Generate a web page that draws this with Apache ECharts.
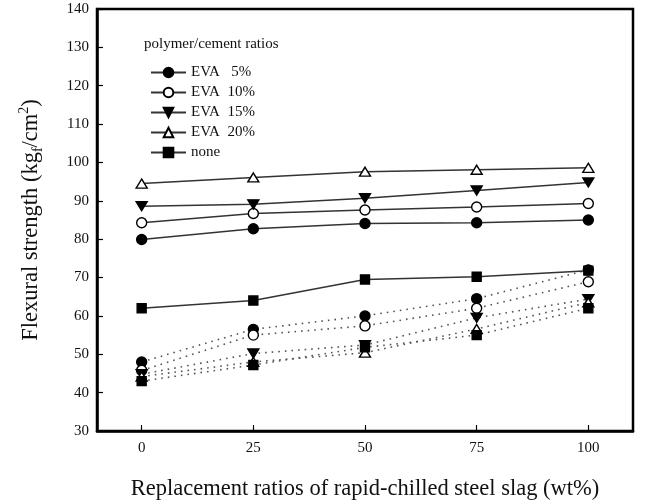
<!DOCTYPE html>
<html>
<head>
<meta charset="utf-8">
<script src="https://cdn.jsdelivr.net/npm/echarts@6/dist/echarts.min.js"></script>
<style>
  html, body { margin: 0; padding: 0; background: #fff; }
  #chart { width: 651px; height: 504px; }
</style>
</head>
<body>
<div id="chart"></div>
<script>
// Replacement ratio of rapid-chilled steel slag (wt%)
const ratios = [0, 25, 50, 75, 100];
const xTicks = [0, 25, 50, 75, 100];

// Flexural strength (kgf/cm2), solid lines
const eva5 = [79.9, 82.7, 84.1, 84.3, 85.0];
const eva10 = [84.3, 86.7, 87.6, 88.4, 89.3];
const eva15 = [88.6, 89.1, 90.7, 92.7, 94.8];
const eva20 = [94.5, 96.1, 97.6, 98.1, 98.6];
const none = [62.0, 64.0, 69.5, 70.2, 71.8];

// Flexural strength (kgf/cm2), dotted lines
const eva5b = [48.0, 56.5, 60.0, 64.5, 72.0];
const eva10b = [45.8, 55.0, 57.4, 62.0, 68.9];
const eva15b = [44.8, 50.2, 52.4, 59.5, 64.4];
const eva20b = [44.2, 48.0, 50.4, 56.6, 63.5];
const noneb = [43.0, 47.2, 51.8, 55.0, 62.0];

const legendNames = ['EVA   5%', 'EVA  10%', 'EVA  15%', 'EVA  20%', 'none'];
const serifFont = '"Liberation Serif", "DejaVu Serif", serif';

const markerStyles = [
  { symbol: 'circle', symbolSize: 10, fill: '#000' },
  { symbol: 'circle', symbolSize: 10, fill: '#fff' },
  { symbol: 'triangle', symbolSize: [11, 9], fill: '#000', rotate: 180 },
  { symbol: 'triangle', symbolSize: [11, 9], fill: '#fff' },
  { symbol: 'rect', symbolSize: 9, fill: '#000' }
];

function pairs(values) {
  return ratios.map((x, i) => [x, values[i]]);
}

function makeSeries(name, values, m, dotted) {
  return {
    name: name,
    type: 'line',
    data: pairs(values),
    symbol: m.symbol,
    symbolSize: m.symbolSize,
    symbolRotate: m.rotate || 0,
    showAllSymbol: true,
    z: dotted ? 2 : 3,
    lineStyle: dotted
      ? { color: '#555', width: 1.6, type: [1.6, 5] }
      : { color: '#333', width: 1.5, type: 'solid' },
    itemStyle: { color: m.fill, borderColor: '#000', borderWidth: 1.4 },
    emphasis: { disabled: true },
    animation: false
  };
}

const solidSets = [eva5, eva10, eva15, eva20, none];
const dottedSets = [eva5b, eva10b, eva15b, eva20b, noneb];

const series = [];
dottedSets.forEach((v, i) => series.push(makeSeries('dotted ' + i, v, markerStyles[i], true)));
solidSets.forEach((v, i) => series.push(makeSeries(legendNames[i], v, markerStyles[i], false)));

const chart = echarts.init(document.getElementById('chart'), null, { renderer: 'canvas' });
chart.setOption({
  backgroundColor: '#fff',
  animation: false,
  textStyle: { fontFamily: serifFont, color: '#111' },
  title: {
    text: 'polymer/cement ratios',
    left: 139,
    top: 32,
    textStyle: { fontFamily: serifFont, fontSize: 15, fontWeight: 'normal', color: '#111' }
  },
  legend: {
    data: legendNames,
    orient: 'vertical',
    left: 145,
    top: 60,
    itemWidth: 35,
    itemHeight: 12,
    itemGap: 5,
    selectedMode: false,
    textStyle: { fontFamily: serifFont, fontSize: 15, color: '#111' }
  },
  grid: {
    left: 97,
    right: 18,
    top: 9,
    bottom: 73,
    show: true,
    borderColor: '#000',
    borderWidth: 2.5,
    containLabel: false,
    outerBoundsMode: 'none'
  },
  xAxis: {
    type: 'value',
    min: -10,
    max: 110,
    name: 'Replacement ratios of rapid-chilled steel slag (wt%)',
    nameLocation: 'middle',
    nameGap: 47,
    nameTextStyle: { fontFamily: serifFont, fontSize: 22.5, color: '#111' },
    axisLine: { show: true, onZero: false, lineStyle: { color: '#000', width: 2.5 } },
    axisTick: { show: true, inside: true, length: 6, customValues: xTicks, lineStyle: { color: '#000', width: 1.2 } },
    axisLabel: { customValues: xTicks, margin: 10, fontFamily: serifFont, fontSize: 15, color: '#111' },
    splitLine: { show: false }
  },
  yAxis: {
    type: 'value',
    min: 30,
    max: 140,
    interval: 10,
    name: 'Flexural strength (kg{sub|f}/cm{sup|2})',
    nameLocation: 'middle',
    nameGap: 52,
    nameRotate: 90,
    nameTextStyle: {
      fontFamily: serifFont,
      fontSize: 22.5,
      color: '#111',
      lineHeight: 28,
      rich: {
        sub: { fontFamily: serifFont, fontSize: 14, color: '#111', verticalAlign: 'bottom', lineHeight: 28 },
        sup: { fontFamily: serifFont, fontSize: 14, color: '#111', verticalAlign: 'top', lineHeight: 28 }
      }
    },
    axisLine: { show: true, onZero: false, lineStyle: { color: '#000', width: 2.5 } },
    axisTick: { show: true, inside: true, length: 6, lineStyle: { color: '#000', width: 1.2 } },
    axisLabel: { margin: 8, fontFamily: serifFont, fontSize: 15, color: '#111' },
    splitLine: { show: false }
  },
  series: series
});
</script>
</body>
</html>
